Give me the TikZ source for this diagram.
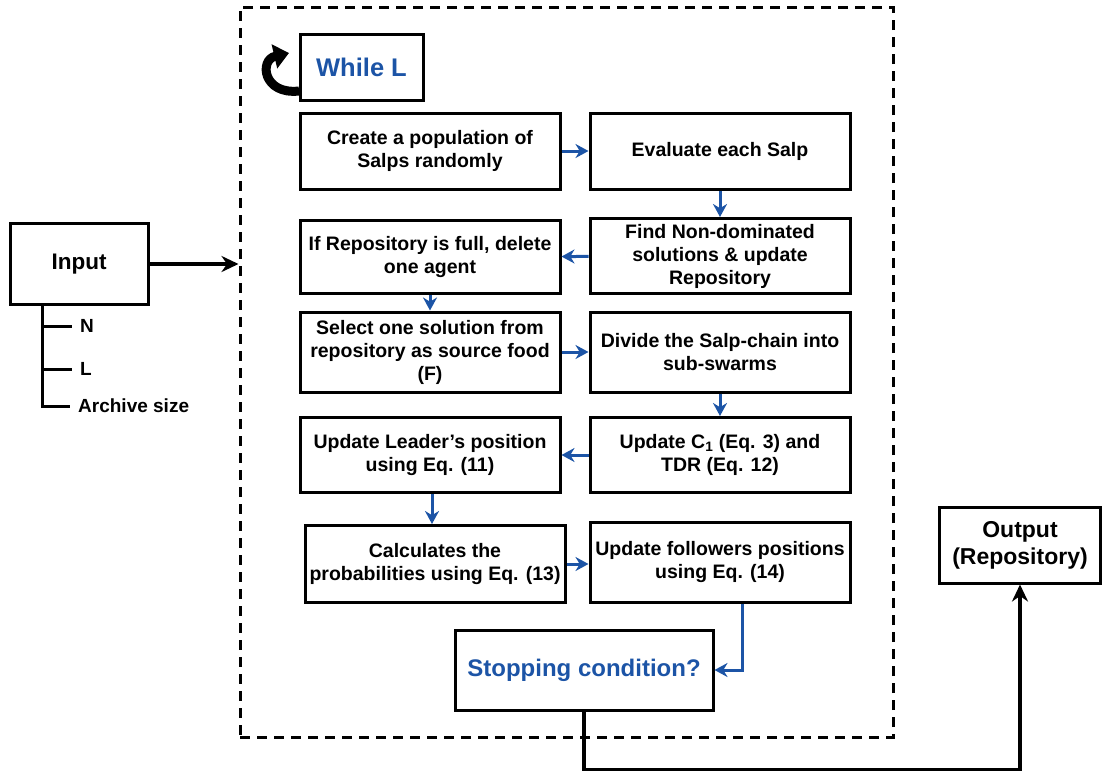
\documentclass[tikz,border=0pt]{standalone}
\usepackage{fontspec}
\setmainfont{Liberation Sans}
\usetikzlibrary{arrows.meta}
\definecolor{flowblue}{RGB}{28,84,166}
\tikzset{
  box/.style={draw=black, line width=3pt, minimum width=260pt, minimum height=76pt, align=center, font=\fontsize{19.5}{23}\selectfont\bfseries, inner sep=1pt},
  bluearrow/.style={draw=flowblue, line width=3pt, -{Stealth[length=13pt,width=14pt]}},
  blackarrow/.style={draw=black, line width=3.4pt, -{Stealth[length=17pt,width=16pt]}},
  treeline/.style={draw=black, line width=3pt},
  lbl/.style={font=\fontsize{19}{22}\selectfont\bfseries, anchor=west, inner sep=1pt},
}
\begin{document}
\begin{tikzpicture}[x=1pt,y=-1pt]
\useasboundingbox (0,0) rectangle (1103,771);
% frame
\node[draw=black, dash pattern=on 10pt off 7pt, line width=3pt, minimum width=653pt, minimum height=730pt] (frame) at (566.5,372) {};
% while loop arrow and box
\node[draw=black, line width=3pt, minimum width=123pt, minimum height=66pt, font=\fontsize{25.5}{28}\selectfont\bfseries, text=flowblue] (while) at (361.5,67) {While L};
\coordinate (loopA) at (299,91);
\coordinate (loopB) at (289,53);
\draw[line width=9pt, -{Triangle[length=15pt,width=24pt]}] (loopA) .. controls (263,95) and (259,60) .. (loopB);
% boxes
\node[box] (create) at (430,151) {Create a population of\\Salps randomly};
\node[box] (eval) at (720,151) {Evaluate each Salp};
\node[box, minimum height=73pt] (ifrep) at (430,257) {If Repository is full, delete\\one agent};
\node[box, minimum height=75pt] (find) at (720,256) {Find Non-dominated\\solutions \& update\\Repository};
\node[box, minimum height=80pt] (select) at (430,352) {Select one solution from\\repository as source food\\(F)};
\node[box, minimum height=80pt] (divide) at (720,352) {Divide the Salp-chain into\\sub-swarms};
\node[box, minimum height=75pt] (leader) at (430,455) {Update Leader's position\\using Eq. (11)};
\node[box, minimum height=75pt] (upc) at (720,455) {Update C\textsubscript{1} (Eq. 3) and\\TDR (Eq. 12)};
\node[box, minimum height=77pt] (calc) at (435,564) {Calculates the\\probabilities using Eq. (13)};
\node[box, minimum height=80pt] (foll) at (720,562) {Update followers positions\\using Eq. (14)};
\node[draw=black, line width=3pt, minimum width=258pt, minimum height=80pt, font=\fontsize{24}{28}\selectfont\bfseries, text=flowblue] (stop) at (584,670) {Stopping condition?};
% input/output
\node[draw=black, line width=3pt, minimum width=138pt, minimum height=81pt, font=\fontsize{22.5}{26}\selectfont\bfseries] (input) at (79,264) {Input};
\node[draw=black, line width=3pt, minimum width=161pt, minimum height=76pt, align=center, font=\fontsize{23}{27}\selectfont\bfseries] (output) at (1020,545) {Output\\(Repository)};
\node[lbl] (pn) at (79,326) {N};
\node[lbl] (pl) at (79,369) {L};
\node[lbl] (pa) at (77,406) {Archive size};
\coordinate (treetop) at ([xshift=-37pt]input.south);
\draw[treeline] (treetop) |- ([xshift=-7pt]pa.west);
\draw[treeline] (treetop |- pn.west) -- ([xshift=-7pt]pn.west);
\draw[treeline] (treetop |- pl.west) -- ([xshift=-7pt]pl.west);
% blue arrows
\draw[bluearrow] (create) -- (eval);
\draw[bluearrow] (eval) -- (find);
\draw[bluearrow] (find) -- (ifrep);
\draw[bluearrow] (ifrep) -- (select);
\draw[bluearrow] (select) -- (divide);
\draw[bluearrow] (divide) -- (upc);
\draw[bluearrow] (upc) -- (leader);
\draw[bluearrow] ([xshift=2pt]leader.south) -- ([xshift=-3pt]calc.north);
\draw[bluearrow] (calc) -- (foll.west |- calc);
\draw[bluearrow] ([xshift=22pt]foll.south) |- (stop.east);
% black arrows
\draw[blackarrow] (input.east) -- (input.east -| frame.west);
\draw[blackarrow] (stop.south) -- ++(0,58) -| (output.south);
\end{tikzpicture}
\end{document}
